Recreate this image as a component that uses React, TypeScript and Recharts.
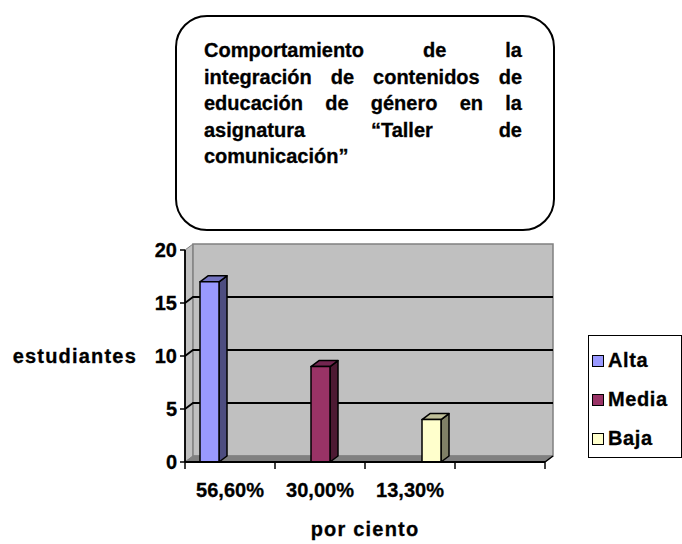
import React from 'react';
import { BarChart, Bar, XAxis, YAxis, CartesianGrid, Legend } from 'recharts';

// categories on the x axis (last slot is empty in the original)
const categories = ['56,60%', '30,00%', '13,30%', ''];
// students per level, one series per level
const alta = [17, null, null, null];
const media = [null, 9, null, null];
const baja = [null, null, 4, null];
const yTicks = [0, 5, 10, 15, 20];
const seriesNames = ['Alta', 'Media', 'Baja'];

const titleLines = [
  'Comportamiento de la',
  'integración de contenidos de',
  'educación de género en la',
  'asignatura “Taller de',
  'comunicación”',
];

const data = categories.map((cat, i) => ({
  cat,
  alta: alta[i],
  media: media[i],
  baja: baja[i],
}));

const FONT = "'Liberation Sans', Arial, sans-serif";
const W = 682;
const H = 544;
const PLOT = { left: 185, top: 250, right: 545, bottom: 462 };
const DX = 8; // 3d depth
const DY = 6;
const BAND = (PLOT.right - PLOT.left) / categories.length;

const labelStyle = {
  fontFamily: FONT,
  fontWeight: 'bold',
  fontSize: 20,
  fill: '#000',
  stroke: '#000',
  strokeWidth: 0.3,
};

function Bar3D(props: any) {
  const { x, y, width, height, fill, side, top } = props;
  if (!height || height <= 0) return <g />;
  const r = x + width;
  const b = y + height;
  return (
    <g stroke="#000" strokeWidth={1.5} strokeLinejoin="round">
      <polygon points={`${r},${y} ${r + DX},${y - DY} ${r + DX},${b - DY} ${r},${b}`} fill={side} />
      <polygon points={`${x},${y} ${x + DX},${y - DY} ${r + DX},${y - DY} ${r},${y}`} fill={top} />
      <rect x={x} y={y} width={width} height={height} fill={fill} />
    </g>
  );
}

function GridLine(props: any) {
  const { x1, y1, x2 } = props;
  if (Math.abs(y1 - PLOT.top) < 1 || Math.abs(y1 - PLOT.bottom) < 1) return <g />;
  return (
    <polyline
      points={`${x1},${y1} ${x1 + DX},${y1 - DY} ${x2 + DX},${y1 - DY}`}
      fill="none"
      stroke="#000"
      strokeWidth={1.8}
    />
  );
}

function XTick({ x, payload, index }: any) {
  const y0 = PLOT.bottom;
  return (
    <g>
      <line x1={x - BAND / 2} x2={x - BAND / 2} y1={y0} y2={y0 + 7} stroke="#000" strokeWidth={1.5} />
      {index === categories.length - 1 && (
        <line x1={x + BAND / 2} x2={x + BAND / 2} y1={y0} y2={y0 + 7} stroke="#000" strokeWidth={1.5} />
      )}
      <text x={x} y={y0 + 35} textAnchor="middle" style={labelStyle as any}>
        {payload.value}
      </text>
    </g>
  );
}

function LegendBox({ payload }: any) {
  const items = [...(payload || [])].sort(
    (a: any, b: any) => seriesNames.indexOf(a.value) - seriesNames.indexOf(b.value)
  );
  return (
    <div
      style={{
        width: 94,
        height: 123,
        border: '1px solid #000',
        boxSizing: 'border-box',
        paddingTop: 5,
        background: '#fff',
      }}
    >
      {items.map((p: any) => (
        <div key={p.value} style={{ height: 39, display: 'flex', alignItems: 'center' }}>
          <span
            style={{
              width: 10,
              height: 10,
              background: p.color,
              border: '1px solid #000',
              marginLeft: 3,
              marginRight: 4,
              flex: 'none',
            }}
          />
          <span
            style={{
              fontFamily: FONT,
              fontWeight: 'bold',
              fontSize: 20,
              letterSpacing: 0.6,
              color: '#000',
              WebkitTextStroke: '0.3px #000',
              whiteSpace: 'nowrap',
            }}
          >
            {p.value}
          </span>
        </div>
      ))}
    </div>
  );
}

export default function App() {
  return (
    <div style={{ position: 'absolute', left: 0, top: 0, width: W, height: H, background: '#fff', fontFamily: FONT }}>
      {/* walls and floor of the 3d plot */}
      <svg width={W} height={H} style={{ position: 'absolute', left: 0, top: 0 }}>
        <polygon
          points={`${PLOT.left},${PLOT.top} ${PLOT.left + DX},${PLOT.top - DY} ${PLOT.left + DX},${PLOT.bottom - DY} ${PLOT.left},${PLOT.bottom}`}
          fill="#c0c0c0"
          stroke="#808080"
        />
        <rect
          x={PLOT.left + DX}
          y={PLOT.top - DY}
          width={PLOT.right - PLOT.left}
          height={PLOT.bottom - PLOT.top}
          fill="#c0c0c0"
          stroke="#808080"
          strokeWidth={1.5}
        />
        <polygon
          points={`${PLOT.left},${PLOT.bottom} ${PLOT.left + DX},${PLOT.bottom - DY} ${PLOT.right + DX},${PLOT.bottom - DY} ${PLOT.right},${PLOT.bottom}`}
          fill="#808080"
          stroke="#808080"
        />
        <line x1={PLOT.right} y1={PLOT.bottom} x2={PLOT.right + DX} y2={PLOT.bottom - DY} stroke="#000" strokeWidth={1.5} />
      </svg>

      <div style={{ position: 'absolute', left: 0, top: 0 }}>
        <BarChart
          width={W}
          height={H}
          data={data}
          margin={{ top: PLOT.top, right: W - PLOT.right, bottom: 32, left: PLOT.left - 60 }}
          barSize={19}
          barGap={2}
        >
          <CartesianGrid vertical={false} horizontal={GridLine as any} />
          <XAxis
            dataKey="cat"
            height={H - PLOT.bottom - 32}
            interval={0}
            tickLine={false}
            axisLine={{ stroke: '#000', strokeWidth: 1.8 }}
            tick={<XTick />}
            label={{
              value: 'por ciento',
              position: 'bottom',
              offset: 10,
              style: { ...labelStyle, letterSpacing: 1.2 },
            }}
          />
          <YAxis
            width={60}
            domain={[0, 20]}
            ticks={yTicks}
            interval={0}
            tickSize={5}
            tickMargin={3}
            tickLine={{ stroke: '#000', strokeWidth: 1.5 }}
            axisLine={{ stroke: '#000', strokeWidth: 1.8 }}
            tick={{ ...labelStyle } as any}
            label={{
              value: 'estudiantes',
              position: 'left',
              offset: -12,
              style: { ...labelStyle, letterSpacing: 1.2 },
            }}
          />
          <Legend
            layout="vertical"
            align="center"
            verticalAlign="middle"
            width={94}
            height={123}
            wrapperStyle={{ left: 588, top: 335, width: 94, height: 123 }}
            content={<LegendBox />}
          />
          <Bar
            dataKey="alta"
            name="Alta"
            fill="#9999ff"
            isAnimationActive={false}
            shape={(p: any) => <Bar3D {...p} side="#4d4d80" top="#7373bf" />}
          />
          <Bar
            dataKey="media"
            name="Media"
            fill="#993366"
            isAnimationActive={false}
            shape={(p: any) => <Bar3D {...p} side="#4d1a33" top="#732650" />}
          />
          <Bar
            dataKey="baja"
            name="Baja"
            fill="#ffffcc"
            isAnimationActive={false}
            shape={(p: any) => <Bar3D {...p} side="#808066" top="#bfbf99" />}
          />
        </BarChart>
      </div>

      {/* title box */}
      <div
        style={{
          position: 'absolute',
          left: 175,
          top: 15,
          width: 380,
          height: 216,
          boxSizing: 'border-box',
          border: '2.5px solid #000',
          borderRadius: 32,
          padding: '20px 31px 0 27px',
          background: '#fff',
        }}
      >
        {titleLines.map((line, i) => (
          <div
            key={i}
            style={{
              fontFamily: FONT,
              fontWeight: 'bold',
              fontSize: 20,
              lineHeight: '26.5px',
              color: '#000',
              WebkitTextStroke: '0.3px #000',
              textAlign: 'justify',
              textAlignLast: i < titleLines.length - 1 ? 'justify' : 'left',
              whiteSpace: 'nowrap',
            }}
          >
            {line}
          </div>
        ))}
      </div>
    </div>
  );
}
